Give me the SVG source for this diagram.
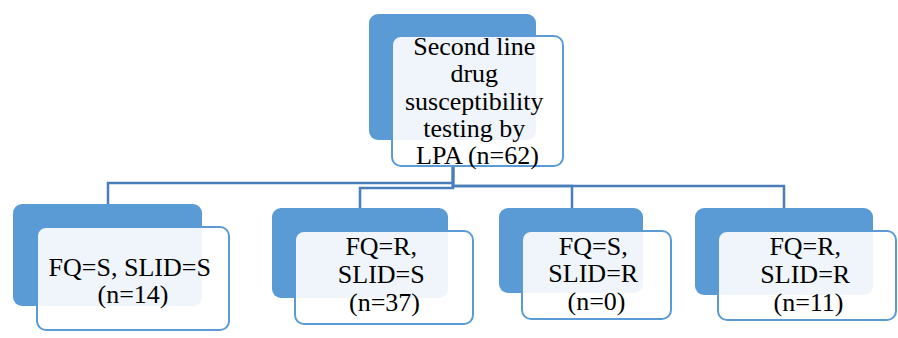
<svg xmlns="http://www.w3.org/2000/svg" width="898" height="338" viewBox="0 0 898 338">
  <style>
    .back { fill: #5b9bd5; }
    .front { fill: #ffffff; fill-opacity: 0.9; stroke: #5b9bd5; stroke-width: 2; }
    .label { font-family: "Liberation Serif", "Times New Roman", serif; font-size: 26px; fill: #000000; text-anchor: middle; }
    .link { fill: none; stroke: #4a7ebb; stroke-width: 2.5; }
  </style>
  <rect width="898" height="338" fill="#ffffff"/>

  <!-- connectors from the root to each result box -->
  <g id="connectors">
    <path class="link" d="M453 166 V183 H108 V204"/>
    <path class="link" d="M453 166 V188 H360 V208"/>
    <path class="link" d="M453 166 V186 H572 V208"/>
    <path class="link" d="M453 166 V186 H784 V208"/>
  </g>

  <g id="root">
    <rect class="back" x="369" y="14" width="167" height="126" rx="9"/>
    <rect class="front" x="392" y="36" width="171" height="130" rx="9"/>
    <text class="label" x="477.5">
      <tspan x="477.5" y="55">Second line</tspan>
      <tspan x="477.5" y="82">drug</tspan>
      <tspan x="477.5" y="110">susceptibility</tspan>
      <tspan x="477.5" y="137">testing by</tspan>
      <tspan x="477.5" y="164">LPA (n=62)</tspan>
    </text>
  </g>

  <g id="fq-s-slid-s">
    <rect class="back" x="13" y="204" width="189" height="102" rx="9"/>
    <rect class="front" x="37" y="227" width="192" height="103" rx="9"/>
    <text class="label">
      <tspan x="133" y="276">FQ=S, SLID=S</tspan>
      <tspan x="133" y="303">(n=14)</tspan>
    </text>
  </g>

  <g id="fq-r-slid-s">
    <rect class="back" x="272" y="208" width="176" height="90" rx="9"/>
    <rect class="front" x="295" y="231" width="178" height="93" rx="9"/>
    <text class="label">
      <tspan x="384.5" y="255">FQ=R,</tspan>
      <tspan x="384.5" y="283">SLID=S</tspan>
      <tspan x="384.5" y="311">(n=37)</tspan>
    </text>
  </g>

  <g id="fq-s-slid-r">
    <rect class="back" x="499" y="208" width="144" height="85" rx="9"/>
    <rect class="front" x="522" y="231" width="149" height="88" rx="9"/>
    <text class="label">
      <tspan x="596.5" y="255">FQ=S,</tspan>
      <tspan x="596.5" y="282">SLID=R</tspan>
      <tspan x="596.5" y="310">(n=0)</tspan>
    </text>
  </g>

  <g id="fq-r-slid-r">
    <rect class="back" x="695" y="208" width="178" height="87" rx="9"/>
    <rect class="front" x="718" y="231" width="178" height="89" rx="9"/>
    <text class="label">
      <tspan x="808.5" y="255">FQ=R,</tspan>
      <tspan x="808.5" y="283">SLID=R</tspan>
      <tspan x="808.5" y="311">(n=11)</tspan>
    </text>
  </g>
</svg>
